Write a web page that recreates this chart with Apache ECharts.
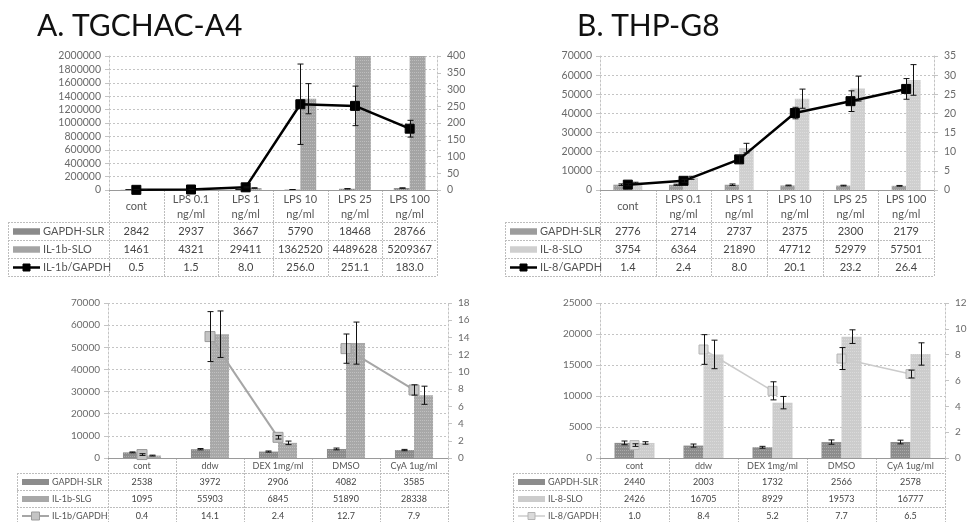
<!DOCTYPE html>
<html>
<head>
<meta charset="utf-8">
<script src="https://cdn.jsdelivr.net/npm/echarts@6/dist/echarts.min.js"></script>
<style>
  html, body { margin: 0; padding: 0; background: #fff; }
  #chart { width: 970px; height: 522px; }
</style>
</head>
<body>
<div id="chart"></div>
<script>
// ---- categories ----
const lpsCats = ['cont', 'LPS 0.1\nng/ml', 'LPS 1\nng/ml', 'LPS 10\nng/ml', 'LPS 25\nng/ml', 'LPS 100\nng/ml'];
const drugCats = ['cont', 'ddw', 'DEX 1mg/ml', 'DMSO', 'CyA 1ug/ml'];

// ---- A. TGCHAC-A4, LPS dose ----
const gapdhA1 = [2842, 2937, 3667, 5790, 18468, 28766];
const gapdhA1Err = [300, 300, 400, 500, 1500, 3000];
const il1bA1 = [1461, 4321, 29411, 1362520, 4489628, 5209367];
const il1bA1Err = [300, 800, 4000, 225000, null, null];
const ratioA1 = [0.5, 1.5, 8.0, 256.0, 251.1, 183.0];
const ratioA1Err = [0.2, 0.4, 1.5, 120, 59, 25];

// ---- B. THP-G8, LPS dose ----
const gapdhB1 = [2776, 2714, 2737, 2375, 2300, 2179];
const gapdhB1Err = [400, 300, 400, 200, 200, 200];
const il8B1 = [3754, 6364, 21890, 47712, 52979, 57501];
const il8B1Err = [300, 800, 2500, 5000, 6500, 8000];
const ratioB1 = [1.4, 2.4, 8.0, 20.1, 23.2, 26.4];
const ratioB1Err = [0.3, 0.4, 1.0, 1.5, 2.7, 2.7];

// ---- A. TGCHAC-A4, drug treatment ----
const gapdhA2 = [2538, 3972, 2906, 4082, 3585];
const gapdhA2Err = [200, 300, 250, 400, 300];
const il1bA2 = [1095, 55903, 6845, 51890, 28338];
const il1bA2Err = [200, 10500, 800, 9500, 4100];
const ratioA2 = [0.4, 14.1, 2.4, 12.7, 7.9];
const ratioA2Err = [0.1, 2.9, 0.2, 1.7, 0.6];

// ---- B. THP-G8, drug treatment ----
const gapdhB2 = [2440, 2003, 1732, 2566, 2578];
const gapdhB2Err = [300, 250, 150, 350, 300];
const il8B2 = [2426, 16705, 8929, 19573, 16777];
const il8B2Err = [200, 2300, 1000, 1100, 1800];
const ratioB2 = [1.0, 8.4, 5.2, 7.7, 6.5];
const ratioB2Err = [0.1, 1.15, 0.7, 0.85, 0.3];

// connected pairs of the ratio line in the drug panels (vehicle -> drug)
const drugLinks = [[1, 2], [3, 4]];

// ---- axis ranges ----
const leftMax = [2000000, 70000, 70000, 25000];
const leftStep = [200000, 10000, 10000, 5000];
const rightMax = [400, 35, 18, 12];
const rightStep = [50, 5, 2, 2];

const FONT = 'Lato, "Open Sans", sans-serif';

const panels = [
  { cats: lpsCats, names: ['GAPDH-SLR', 'IL-1b-SLO', 'IL-1b/GAPDH'],
    bars: [gapdhA1, il1bA1], barErr: [gapdhA1Err, il1bA1Err], ratio: ratioA1, ratioErr: ratioA1Err, links: null,
    grid: { left: 109, top: 56, width: 328, height: 134 }, gap: 0.42,
    barColors: ['#8a8a8a', '#a4a4a4'], lineColor: '#000', markColor: '#000', markBorder: '#000', lineWidth: 2.5, symSize: 9,
    axisFont: 10.5, table: { labelLeft: 8, headH: 32, rowH: 18, font: 11, headFont: 11 } },
  { cats: lpsCats, names: ['GAPDH-SLR', 'IL-8-SLO', 'IL-8/GAPDH'],
    bars: [gapdhB1, il8B1], barErr: [gapdhB1Err, il8B1Err], ratio: ratioB1, ratioErr: ratioB1Err, links: null,
    grid: { left: 600, top: 56, width: 334, height: 134 }, gap: 0.48,
    barColors: ['#9c9c9c', '#cfcfcf'], lineColor: '#000', markColor: '#000', markBorder: '#000', lineWidth: 2.5, symSize: 9,
    axisFont: 10.5, table: { labelLeft: 505, headH: 32, rowH: 18, font: 11, headFont: 11 } },
  { cats: drugCats, names: ['GAPDH-SLR', 'IL-1b-SLG', 'IL-1b/GAPDH'],
    bars: [gapdhA2, il1bA2], barErr: [gapdhA2Err, il1bA2Err], ratio: ratioA2, ratioErr: ratioA2Err, links: drugLinks,
    grid: { left: 108, top: 303, width: 340, height: 155 }, gap: 0.44,
    barColors: ['#8c8c8c', '#a8a8a8'], lineColor: '#a6a6a6', markColor: '#c4c4c4', markBorder: '#9a9a9a', lineWidth: 2, symSize: 10,
    axisFont: 10, table: { labelLeft: 17, headH: 15, rowH: 17, font: 9, headFont: 9 } },
  { cats: drugCats, names: ['GAPDH-SLR', 'IL-8-SLO', 'IL-8/GAPDH'],
    bars: [gapdhB2, il8B2], barErr: [gapdhB2Err, il8B2Err], ratio: ratioB2, ratioErr: ratioB2Err, links: drugLinks,
    grid: { left: 600, top: 303, width: 345, height: 155 }, gap: 0.42,
    barColors: ['#8c8c8c', '#cccccc'], lineColor: '#cbcbcb', markColor: '#dadada', markBorder: '#b5b5b5', lineWidth: 1.5, symSize: 9,
    axisFont: 10, table: { labelLeft: 513, headH: 15, rowH: 17, font: 9, headFont: 9 } }
];

const grain = { symbol: 'rect', symbolSize: 1, color: 'rgba(255,255,255,0.28)', dashArrayX: [1, 1], dashArrayY: [1, 2], rotation: 0 };

// Whisker renderer; side = -1 (left bar), +1 (right bar), 0 (category centre)
function errorRenderer(side, gap) {
  return function (params, api) {
    const v = api.value(1), e = api.value(2);
    if (e == null || isNaN(e)) return null;
    const x = api.value(0);
    const band = api.size([1, 0])[0];
    const w = band * (1 - gap) / 2;
    const c = api.coord([x, v]);
    const cx = Math.round(c[0] + side * w / 2) + 0.5;
    const hi = api.coord([x, v + e])[1];
    const lo = api.coord([x, Math.max(v - e, 0)])[1];
    const st = { stroke: '#111', lineWidth: 1 };
    return { type: 'group', children: [
      { type: 'line', shape: { x1: cx, y1: hi, x2: cx, y2: lo }, style: st },
      { type: 'line', shape: { x1: cx - 3, y1: hi, x2: cx + 3, y2: hi }, style: st },
      { type: 'line', shape: { x1: cx - 3, y1: lo, x2: cx + 3, y2: lo }, style: st }
    ] };
  };
}

const gridLine = { show: true, lineStyle: { color: '#c4c4c4', type: [2, 2], width: 1 } };
const axisLineStyle = { show: true, lineStyle: { color: '#c4c4c4', type: [2, 2], width: 1 } };
const plainNum = function (v) { return String(v); };

const option = { animation: false, grid: [], xAxis: [], yAxis: [], series: [] };

panels.forEach(function (p, k) {
  option.grid.push(Object.assign({ containLabel: false }, p.grid));
  option.xAxis.push({
    type: 'category', gridIndex: k, data: p.cats,
    axisLabel: { show: false }, axisTick: { show: false },
    axisLine: { show: true, lineStyle: { color: '#9a9a9a', width: 1 } }
  });
  option.yAxis.push({
    type: 'value', gridIndex: k, position: 'left', min: 0, max: leftMax[k], interval: leftStep[k],
    axisLine: axisLineStyle, axisTick: { show: true, length: 4, lineStyle: { color: '#c4c4c4' } },
    splitLine: gridLine,
    axisLabel: { color: '#6a6a6a', fontFamily: FONT, fontSize: p.axisFont, margin: 8, formatter: plainNum }
  });
  option.yAxis.push({
    type: 'value', gridIndex: k, position: 'right', min: 0, max: rightMax[k], interval: rightStep[k],
    axisLine: axisLineStyle, axisTick: { show: true, length: 4, lineStyle: { color: '#c4c4c4' } },
    splitLine: { show: false },
    axisLabel: { color: '#6a6a6a', fontFamily: FONT, fontSize: p.axisFont, margin: 10, formatter: plainNum }
  });
  const yl = 2 * k, yr = 2 * k + 1;
  p.bars.forEach(function (vals, j) {
    option.series.push({
      type: 'bar', name: p.names[j], xAxisIndex: k, yAxisIndex: yl, data: vals,
      barGap: '0%', barCategoryGap: (p.gap * 100) + '%', clip: true, z: 2,
      itemStyle: { color: p.barColors[j], decal: grain }
    });
  });
  if (p.links) {
    // markers on every category, connecting segments only between linked pairs
    option.series.push({
      type: 'line', name: p.names[2], xAxisIndex: k, yAxisIndex: yr, data: p.ratio,
      symbol: 'rect', symbolSize: p.symSize, z: 4,
      lineStyle: { opacity: 0 },
      itemStyle: { color: p.markColor, borderColor: p.markBorder, borderWidth: 1 }
    });
    p.links.forEach(function (pair) {
      option.series.push({
        type: 'line', xAxisIndex: k, yAxisIndex: yr, symbol: 'none', z: 3,
        data: p.ratio.map(function (v, i) { return (i >= pair[0] && i <= pair[1]) ? v : null; }),
        lineStyle: { color: p.lineColor, width: p.lineWidth }
      });
    });
  } else {
    option.series.push({
      type: 'line', name: p.names[2], xAxisIndex: k, yAxisIndex: yr, data: p.ratio,
      symbol: 'rect', symbolSize: p.symSize, z: 4,
      lineStyle: { color: p.lineColor, width: p.lineWidth },
      itemStyle: { color: p.markColor, borderColor: p.markBorder, borderWidth: 1 }
    });
  }
  [[p.bars[0], p.barErr[0], -1, yl], [p.bars[1], p.barErr[1], 1, yl], [p.ratio, p.ratioErr, 0, yr]].forEach(function (t) {
    option.series.push({
      type: 'custom', xAxisIndex: k, yAxisIndex: t[3], clip: true, z: 5,
      renderItem: errorRenderer(t[2], p.gap),
      encode: { x: 0, y: 1 },
      data: t[0].map(function (v, i) { return [i, v, t[1][i]]; })
    });
  });
});

const chart = echarts.init(document.getElementById('chart'), null, { renderer: 'canvas' });
chart.setOption(option);

// ---- data tables under each chart + panel titles ----
function fmtVal(v, j) { return j === 2 ? v.toFixed(1) : String(v); }

function swatch(p, j, x, yc) {
  if (j < 2) {
    return [{ type: 'rect', shape: { x: x, y: yc - 3, width: 27, height: 6 },
      style: { fill: p.barColors[j], decal: grain } }];
  }
  return [
    { type: 'line', shape: { x1: x, y1: yc, x2: x + 27, y2: yc }, style: { stroke: p.lineColor, lineWidth: p.lineWidth } },
    { type: 'rect', shape: { x: x + 13.5 - p.symSize / 2 + 1, y: yc - p.symSize / 2 + 1, width: p.symSize - 2, height: p.symSize - 2 },
      style: { fill: p.markColor, stroke: p.markBorder, lineWidth: 1 } }
  ];
}

const graphics = [
  { type: 'text', left: 37, top: 11, style: { text: 'A. TGCHAC-A4', fontFamily: FONT, fontSize: 30, fill: '#111' } },
  { type: 'text', left: 577, top: 11, style: { text: 'B. THP-G8', fontFamily: FONT, fontSize: 30, fill: '#111' } }
];

panels.forEach(function (p, k) {
  const t = p.table;
  const n = p.cats.length;
  const cx = p.cats.map(function (c, i) { return chart.convertToPixel({ xAxisIndex: k }, i); });
  const band = cx[1] - cx[0];
  const x0 = cx[0] - band / 2, x1 = cx[n - 1] + band / 2;
  const yTop = Math.round(chart.convertToPixel({ yAxisIndex: 2 * k }, 0));
  const yHead = yTop + t.headH;
  const yEnd = yHead + 3 * t.rowH;
  const tl = { stroke: '#bdbdbd', lineWidth: 1, lineDash: [2, 1] };
  const px = function (v) { return Math.round(v) + 0.5; };

  // vertical rules at category boundaries
  for (let i = 0; i <= n; i++) {
    const xx = px(x0 + i * band);
    graphics.push({ type: 'line', shape: { x1: xx, y1: yTop, x2: xx, y2: yEnd }, style: tl });
  }
  graphics.push({ type: 'line', shape: { x1: px(t.labelLeft), y1: yHead, x2: px(t.labelLeft), y2: yEnd }, style: tl });
  // horizontal rules
  for (let r = 0; r <= 3; r++) {
    const yy = px(yHead + r * t.rowH);
    graphics.push({ type: 'line', shape: { x1: t.labelLeft, y1: yy, x2: x1, y2: yy }, style: tl });
  }
  // header
  p.cats.forEach(function (c, i) {
    graphics.push({ type: 'text', x: cx[i], y: yTop + t.headH / 2 + 0.5,
      style: { text: c, fontFamily: FONT, fontSize: t.headFont, fill: '#555', align: 'center', verticalAlign: 'middle', lineHeight: t.headFont + 4 } });
  });
  // rows
  const rows = [p.bars[0], p.bars[1], p.ratio];
  rows.forEach(function (vals, j) {
    const yc = yHead + j * t.rowH + t.rowH / 2 + 0.5;
    swatch(p, j, t.labelLeft + 5, yc).forEach(function (g) { graphics.push(g); });
    graphics.push({ type: 'text', x: t.labelLeft + 35, y: yc,
      style: { text: p.names[j], fontFamily: FONT, fontSize: t.font, fill: '#555', align: 'left', verticalAlign: 'middle' } });
    vals.forEach(function (v, i) {
      graphics.push({ type: 'text', x: cx[i], y: yc,
        style: { text: fmtVal(v, j), fontFamily: FONT, fontSize: t.font, fill: '#444', align: 'center', verticalAlign: 'middle' } });
    });
  });
});

chart.setOption({ graphic: graphics });
</script>
</body>
</html>
